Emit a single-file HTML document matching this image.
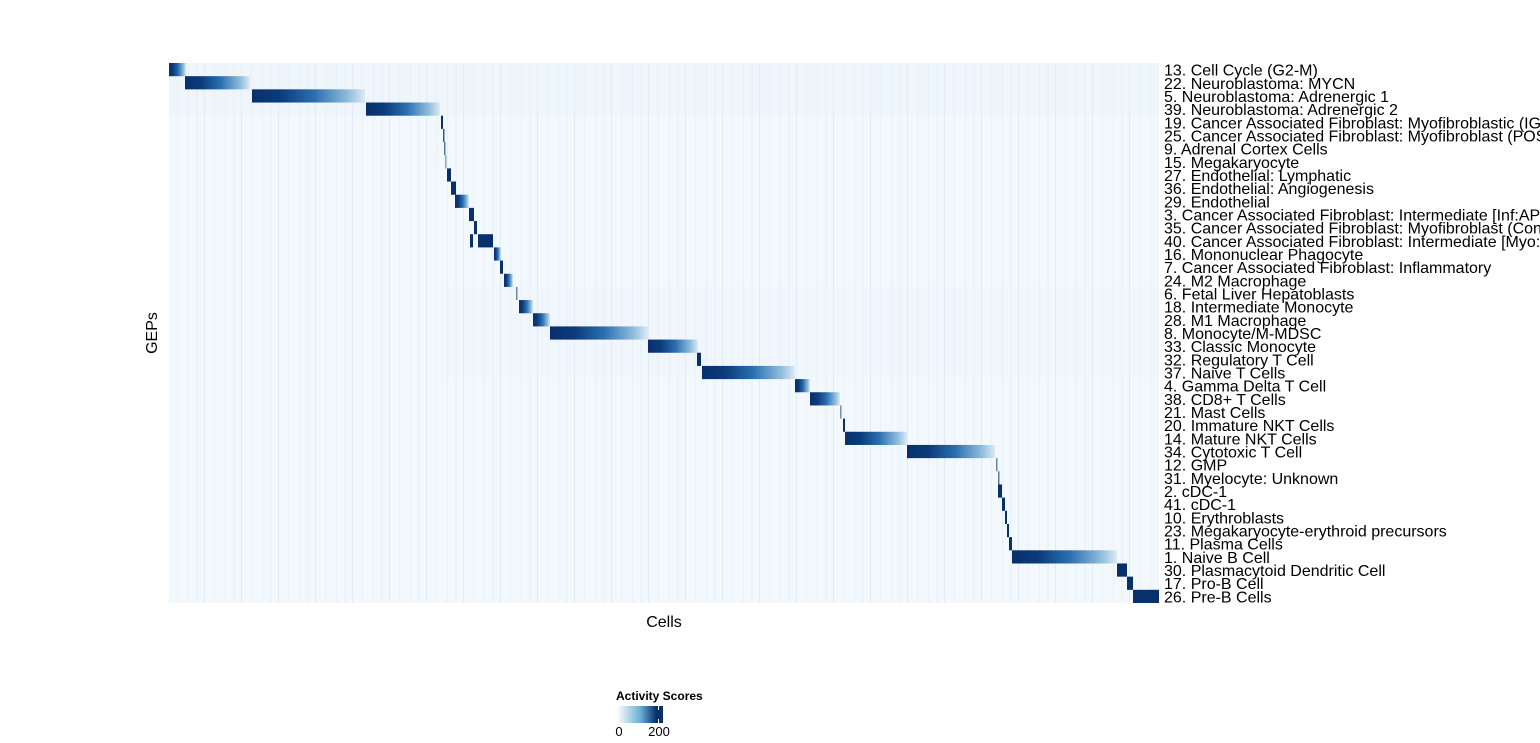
<!DOCTYPE html>
<html><head><meta charset="utf-8"><style>
html,body{margin:0;padding:0;background:#fff;width:1540px;height:743px;overflow:hidden;font-family:"Liberation Sans",Arial,sans-serif}
</style></head><body>
<svg width="1540" height="743" xmlns="http://www.w3.org/2000/svg" style="display:block">
<defs>
<linearGradient id="g" x1="0" x2="1" y1="0" y2="0">
<stop offset="0" stop-color="#08306b"/><stop offset="0.25" stop-color="#0b3b7c"/><stop offset="0.55" stop-color="#2b6fb0"/><stop offset="0.85" stop-color="#8fbddc"/><stop offset="1" stop-color="#dde9f5"/>
</linearGradient>
<linearGradient id="lg" x1="0" x2="1"><stop offset="0" stop-color="#f7fbff"/><stop offset="0.5" stop-color="#6aaed6"/><stop offset="0.85" stop-color="#08306b"/><stop offset="1" stop-color="#08306b"/></linearGradient>
<pattern id="n" width="37" height="13" patternUnits="userSpaceOnUse">
<rect width="37" height="13" fill="#f3f8fd"/>
<rect x="3" width="1" height="13" fill="#e6f0fa"/><rect x="11" width="2" height="13" fill="#ebf3fb"/><rect x="19" width="1" height="13" fill="#e0ebf7"/><rect x="29" width="1" height="13" fill="#e9f2fa"/>
</pattern>
</defs>
<rect x="169" y="63" width="990" height="540" fill="url(#n)"/>
<rect x="169" y="63" width="990" height="53" fill="#e4eef8" opacity="0.3"/>
<rect x="440" y="287" width="720" height="90" fill="#e4eef8" opacity="0.2"/>
<g>
<rect x="169" y="63" width="17" height="13.2" fill="url(#g)"/>
<rect x="185" y="76.17" width="65" height="13.2" fill="url(#g)"/>
<rect x="252" y="89.34" width="113" height="13.2" fill="url(#g)"/>
<rect x="366" y="102.51" width="74" height="13.2" fill="url(#g)"/>
<rect x="441" y="115.68" width="2" height="13.2" fill="#08306b"/>
<rect x="443" y="128.85" width="1.5" height="13.2" fill="#2b5a8f"/>
<rect x="444" y="142.02" width="1.5" height="13.2" fill="#4a7ab0"/>
<rect x="445" y="155.19" width="1.5" height="13.2" fill="#8aa8c8"/>
<rect x="447" y="168.36" width="4" height="13.2" fill="#08306b"/>
<rect x="451" y="181.53" width="5" height="13.2" fill="#08306b"/>
<rect x="455" y="194.7" width="14" height="13.2" fill="url(#g)"/>
<rect x="469" y="207.87" width="5" height="13.2" fill="#08306b"/>
<rect x="474" y="221.04" width="3" height="13.2" fill="#08306b"/>
<rect x="470" y="234.21" width="3" height="13.2" fill="#08306b"/>
<rect x="478" y="234.21" width="15" height="13.2" fill="#08306b"/>
<rect x="494" y="247.38" width="7" height="13.2" fill="url(#g)"/>
<rect x="500" y="260.55" width="3" height="13.2" fill="#08306b"/>
<rect x="504" y="273.72" width="9" height="13.2" fill="url(#g)"/>
<rect x="516" y="286.89" width="1.5" height="13.2" fill="#6b88a8"/>
<rect x="519" y="300.06" width="14" height="13.2" fill="url(#g)"/>
<rect x="533" y="313.23" width="17" height="13.2" fill="url(#g)"/>
<rect x="550" y="326.4" width="98" height="13.2" fill="url(#g)"/>
<rect x="648" y="339.57" width="50" height="13.2" fill="url(#g)"/>
<rect x="697" y="352.74" width="4" height="13.2" fill="#08306b"/>
<rect x="702" y="365.91" width="93" height="13.2" fill="url(#g)"/>
<rect x="795" y="379.08" width="15" height="13.2" fill="url(#g)"/>
<rect x="810" y="392.25" width="30" height="13.2" fill="url(#g)"/>
<rect x="840" y="405.42" width="1.5" height="13.2" fill="#7a8fa8"/>
<rect x="843" y="418.59" width="2" height="13.2" fill="#08306b"/>
<rect x="845" y="431.76" width="62" height="13.2" fill="url(#g)"/>
<rect x="907" y="444.93" width="88" height="13.2" fill="url(#g)"/>
<rect x="996" y="458.1" width="1.5" height="13.2" fill="#6b88a8"/>
<rect x="998" y="471.27" width="1.5" height="13.2" fill="#5a7898"/>
<rect x="998" y="484.44" width="4" height="13.2" fill="#08306b"/>
<rect x="1002" y="497.61" width="3" height="13.2" fill="#08306b"/>
<rect x="1005" y="510.78" width="2" height="13.2" fill="#08306b"/>
<rect x="1007" y="523.95" width="2" height="13.2" fill="#08306b"/>
<rect x="1009" y="537.12" width="3" height="13.2" fill="#08306b"/>
<rect x="1012" y="550.29" width="105" height="13.2" fill="url(#g)"/>
<rect x="1117" y="563.46" width="10" height="13.2" fill="#08306b"/>
<rect x="1127" y="576.63" width="6" height="13.2" fill="#08306b"/>
<rect x="1133" y="589.8" width="26" height="13.2" fill="#08306b"/>
</g>
<g font-size="16" fill="#000">
<text x="1164" y="75.6">13. Cell Cycle (G2-M)</text>
<text x="1164" y="88.8">22. Neuroblastoma: MYCN</text>
<text x="1164" y="101.9">5. Neuroblastoma: Adrenergic 1</text>
<text x="1164" y="115.1">39. Neuroblastoma: Adrenergic 2</text>
<text x="1164" y="128.3">19. Cancer Associated Fibroblast: Myofibroblastic (IGF1R)</text>
<text x="1164" y="141.5">25. Cancer Associated Fibroblast: Myofibroblast (POSTN)</text>
<text x="1164" y="154.6">9. Adrenal Cortex Cells</text>
<text x="1164" y="167.8">15. Megakaryocyte</text>
<text x="1164" y="181.0">27. Endothelial: Lymphatic</text>
<text x="1164" y="194.1">36. Endothelial: Angiogenesis</text>
<text x="1164" y="207.3">29. Endothelial</text>
<text x="1164" y="220.5">3. Cancer Associated Fibroblast: Intermediate [Inf:APOD]</text>
<text x="1164" y="233.6">35. Cancer Associated Fibroblast: Myofibroblast (Contractile)</text>
<text x="1164" y="246.8">40. Cancer Associated Fibroblast: Intermediate [Myo:Inf]</text>
<text x="1164" y="260.0">16. Mononuclear Phagocyte</text>
<text x="1164" y="273.2">7. Cancer Associated Fibroblast: Inflammatory</text>
<text x="1164" y="286.3">24. M2 Macrophage</text>
<text x="1164" y="299.5">6. Fetal Liver Hepatoblasts</text>
<text x="1164" y="312.7">18. Intermediate Monocyte</text>
<text x="1164" y="325.8">28. M1 Macrophage</text>
<text x="1164" y="339.0">8. Monocyte/M-MDSC</text>
<text x="1164" y="352.2">33. Classic Monocyte</text>
<text x="1164" y="365.3">32. Regulatory T Cell</text>
<text x="1164" y="378.5">37. Naive T Cells</text>
<text x="1164" y="391.7">4. Gamma Delta T Cell</text>
<text x="1164" y="404.8">38. CD8+ T Cells</text>
<text x="1164" y="418.0">21. Mast Cells</text>
<text x="1164" y="431.2">20. Immature NKT Cells</text>
<text x="1164" y="444.3">14. Mature NKT Cells</text>
<text x="1164" y="457.5">34. Cytotoxic T Cell</text>
<text x="1164" y="470.7">12. GMP</text>
<text x="1164" y="483.9">31. Myelocyte: Unknown</text>
<text x="1164" y="497.0">2. cDC-1</text>
<text x="1164" y="510.2">41. cDC-1</text>
<text x="1164" y="523.4">10. Erythroblasts</text>
<text x="1164" y="536.5">23. Megakaryocyte-erythroid precursors</text>
<text x="1164" y="549.7">11. Plasma Cells</text>
<text x="1164" y="562.9">1. Naive B Cell</text>
<text x="1164" y="576.0">30. Plasmacytoid Dendritic Cell</text>
<text x="1164" y="589.2">17. Pro-B Cell</text>
<text x="1164" y="602.4">26. Pre-B Cells</text>
</g>
<text x="664" y="627" font-size="16" text-anchor="middle">Cells</text>
<text transform="translate(157,333) rotate(-90)" font-size="16" text-anchor="middle">GEPs</text>
<text x="616" y="700" font-size="12" font-weight="bold">Activity Scores</text>
<rect x="618" y="706" width="45" height="17" fill="url(#lg)"/>
<line x1="658.5" y1="706" x2="658.5" y2="710" stroke="#fff"/>
<line x1="658.5" y1="719" x2="658.5" y2="723" stroke="#fff"/>
<text x="619" y="736" font-size="13" text-anchor="middle">0</text>
<text x="659" y="736" font-size="13" text-anchor="middle">200</text>
</svg>
</body></html>
